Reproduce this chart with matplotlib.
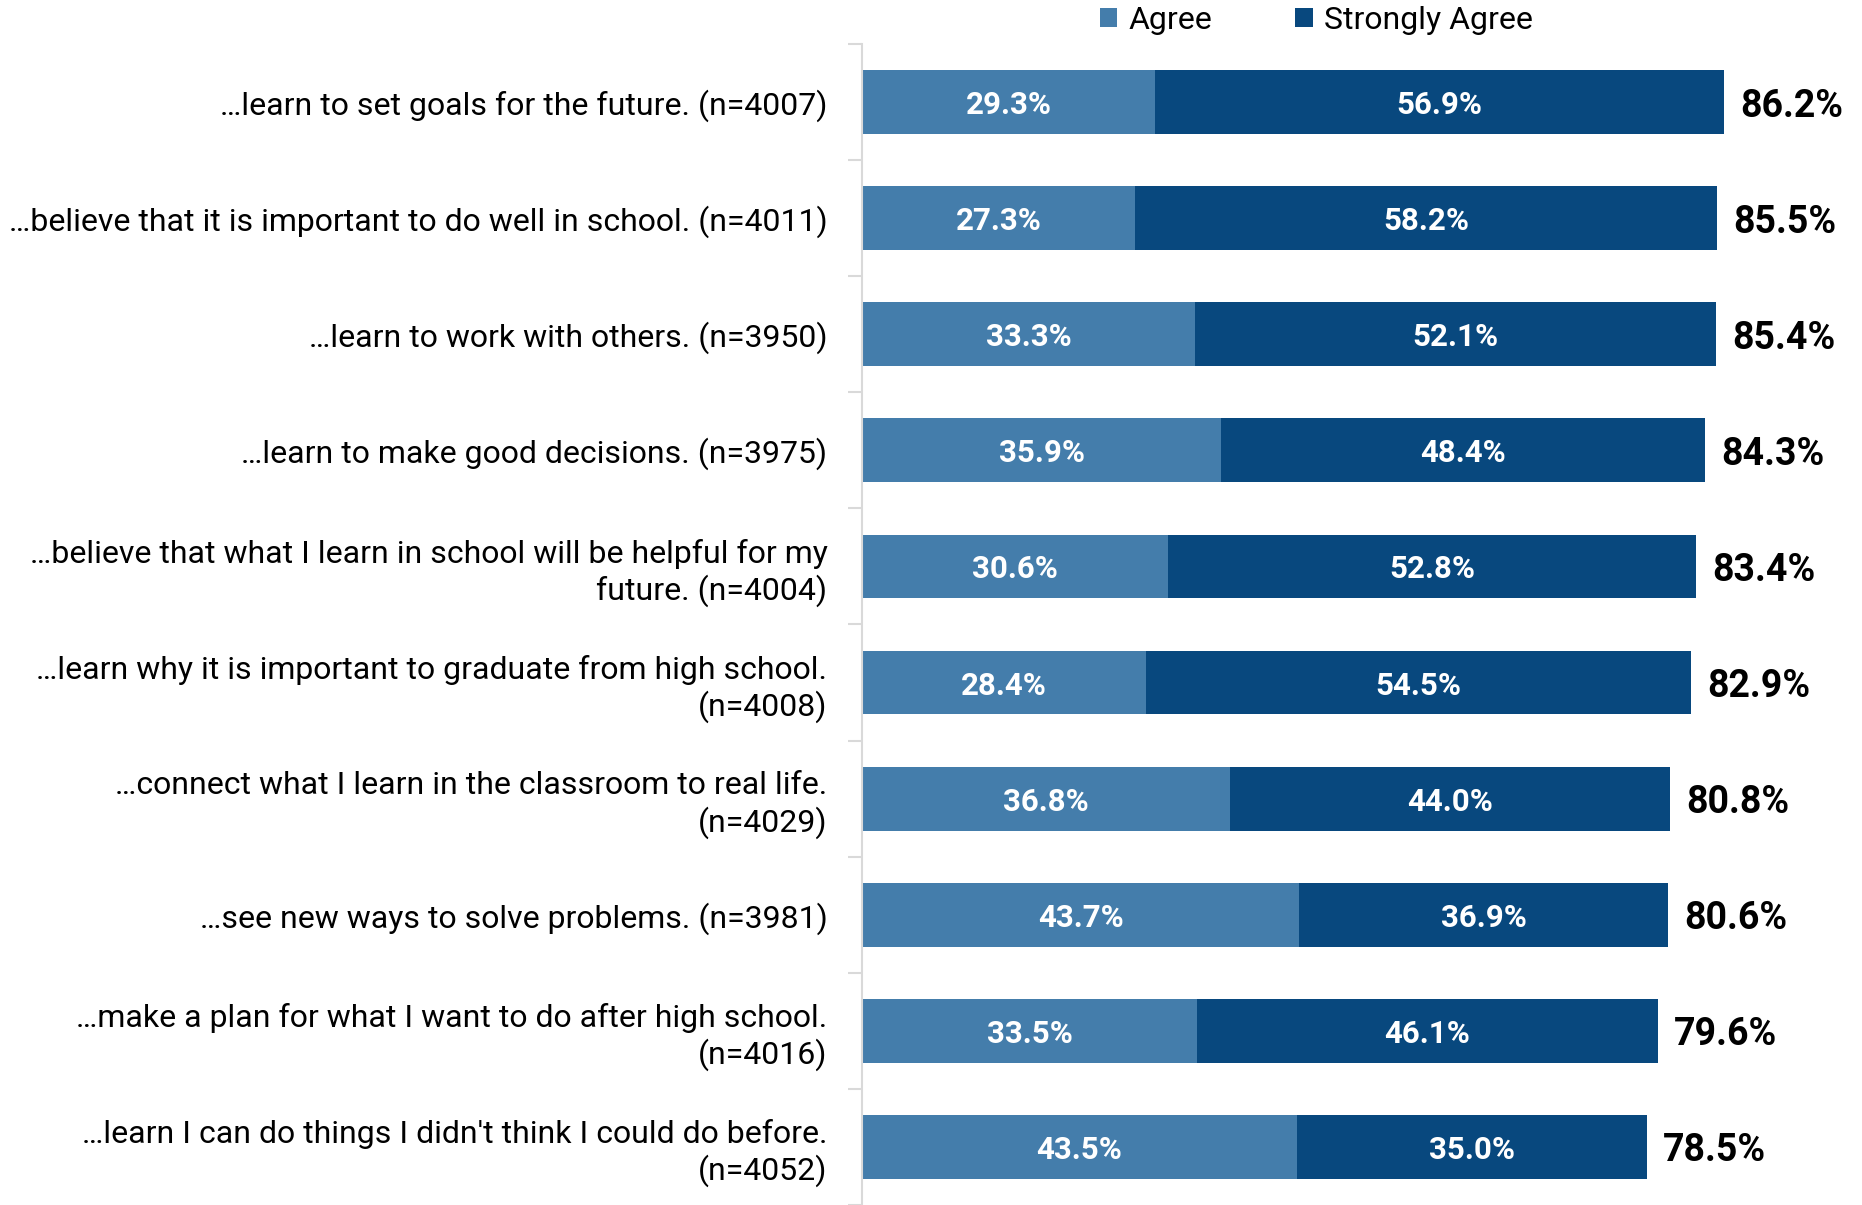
import matplotlib
matplotlib.use('Agg')
import matplotlib.pyplot as plt
import numpy as np

plt.rcParams['font.family'] = ['Roboto', 'DejaVu Sans']

labels = [
    '…learn to set goals for the future. (n=4007)',
    '…believe that it is important to do well in school. (n=4011)',
    '…learn to work with others. (n=3950)',
    '…learn to make good decisions. (n=3975)',
    '…believe that what I learn in school will be helpful for my\nfuture. (n=4004)',
    '…learn why it is important to graduate from high school.\n(n=4008)',
    '…connect what I learn in the classroom to real life.\n(n=4029)',
    '…see new ways to solve problems. (n=3981)',
    '…make a plan for what I want to do after high school.\n(n=4016)',
    "…learn I can do things I didn't think I could do before.\n(n=4052)",
]
agree = [29.3, 27.3, 33.3, 35.9, 30.6, 28.4, 36.8, 43.7, 33.5, 43.5]
strongly = [56.9, 58.2, 52.1, 48.4, 52.8, 54.5, 44.0, 36.9, 46.1, 35.0]
totals = [86.2, 85.5, 85.4, 84.3, 83.4, 82.9, 80.8, 80.6, 79.6, 78.5]

c_agree = '#447DAB'
c_strong = '#08487E'

fig = plt.figure(figsize=(18.62, 12.05), dpi=100)
ax = fig.add_axes([0.463, 0.0, 0.537, 0.9635])

y = np.arange(len(labels))
h = 0.55
ax.barh(y, agree, height=h, color=c_agree, label='Agree')
ax.barh(y, strongly, left=agree, height=h, color=c_strong, label='Strongly Agree')

for i in range(len(labels)):
    ax.text(agree[i] / 2, y[i], f'{agree[i]:.1f}%', ha='center', va='center_baseline',
            color='white', fontsize=22.5, fontweight='bold')
    ax.text(agree[i] + strongly[i] / 2, y[i], f'{strongly[i]:.1f}%', ha='center',
            va='center_baseline', color='white', fontsize=22.5, fontweight='bold')
    ax.text(totals[i] + 1.6, y[i], f'{totals[i]:.1f}%', ha='left', va='center_baseline',
            color='black', fontsize=27, fontweight='bold')

ax.set_xlim(0, 100)
ax.set_ylim(len(labels) - 0.5, -0.5)
ax.set_yticks(y)
ax.set_yticklabels(labels, fontsize=23, linespacing=1.22)
ax.tick_params(axis='y', which='major', length=0, pad=25)
ax.set_yticks(np.arange(-0.5, len(labels), 1), minor=True)
ax.tick_params(axis='y', which='minor', length=10, color='#D9D9D9', width=1.5)
ax.set_xticks([])
for s in ['top', 'right', 'bottom']:
    ax.spines[s].set_visible(False)
ax.spines['left'].set_color('#D9D9D9')
ax.spines['left'].set_linewidth(1.5)

fig.legend(loc='center', bbox_to_anchor=(0.707, 0.983), ncol=2, frameon=False,
           fontsize=23, handlelength=0.55, handleheight=0.55, handletextpad=0.35,
           columnspacing=2.6)

fig.savefig('out.png', dpi=100)
